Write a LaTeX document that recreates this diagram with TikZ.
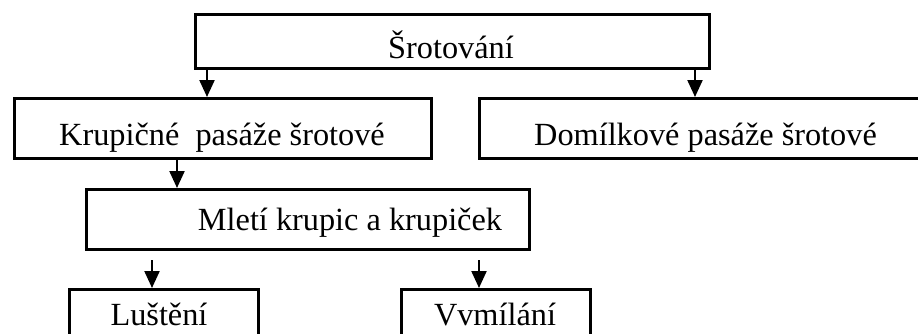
\documentclass[tikz,border=0pt]{standalone}
\usepackage{fontspec}
\setmainfont{Liberation Serif}
\usetikzlibrary{arrows.meta}
\begin{document}
\begin{tikzpicture}[x=1pt,y=-1pt,
  boxnode/.style={draw,line width=2.5pt,rectangle,inner sep=0pt,anchor=north west},
  lbl/.style={anchor=base,inner sep=0pt,font=\fontsize{32.3}{38}\selectfont},
  arr/.style={line width=2.2pt,-{Triangle[width=15pt,length=17pt]}}]
\useasboundingbox (0,0) rectangle (918,333);
\fill[white] (0,0) rectangle (918,333);
\clip (0,0) rectangle (918,333);
% boxes
\node[boxnode,minimum width=514pt,minimum height=54pt] (top) at (194,13) {};
\node[boxnode,minimum width=417pt,minimum height=60pt] (kl) at (13,97) {};
\node[boxnode,minimum width=455pt,minimum height=60pt] (kr) at (478,97) {};
\node[boxnode,minimum width=443pt,minimum height=60pt] (ml) at (85,188) {};
\node[boxnode,minimum width=189pt,minimum height=70pt] (lu) at (68,288) {};
\node[boxnode,minimum width=189pt,minimum height=70pt] (vv) at (400,288) {};
% labels
\node[lbl] (ttop) at (451,58) {Šrotování};
\node[lbl] (tkl) at (222,145) {Krupičné\ \ pasáže šrotové};
\node[lbl] (tkr) at (705.5,145) {Domílkové pasáže šrotové};
\node[lbl] (tml) at (350,230) {Mletí krupic a krupiček};
\node[lbl] (tlu) at (159,325) {Luštění};
\node[lbl] (tvv) at (495,325) {Vvmílání};
% arrow positions
\coordinate (x1) at (207,0);
\coordinate (x2) at (695,0);
\coordinate (x3) at (177,0);
\coordinate (s4) at (152,260);
\coordinate (s5) at (479,260);
% connectors
\draw[arr] (top.south -| x1) -- (kl.north -| x1);
\draw[arr] (top.south -| x2) -- (kr.north -| x2);
\draw[arr] (kl.south -| x3) -- (ml.north -| x3);
\draw[arr] (s4) -- (lu.north -| s4);
\draw[arr] (s5) -- (vv.north -| s5);
\end{tikzpicture}
\end{document}
